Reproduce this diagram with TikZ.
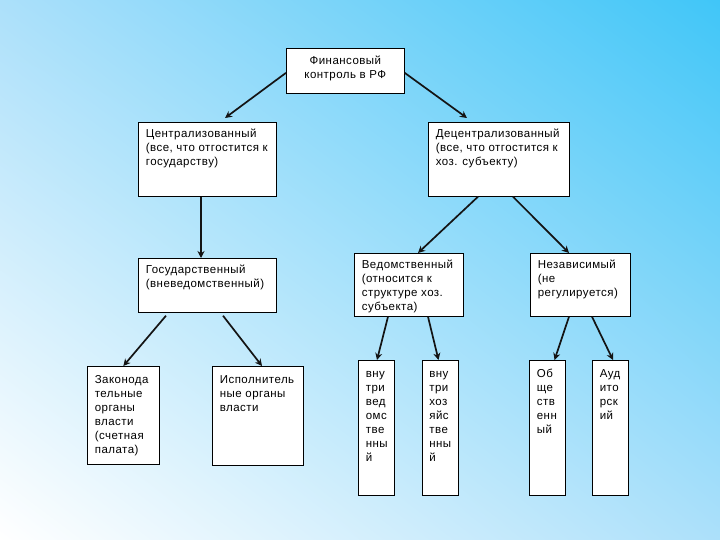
\documentclass[tikz,border=0pt]{standalone}
\usepackage{fontspec}
\setmainfont{Liberation Sans}
\usetikzlibrary{arrows.meta,shadings}
\definecolor{bgUR}{RGB}{64,198,248}
\definecolor{bgMid}{RGB}{172,224,250}
\definecolor{lineC}{RGB}{20,20,20}
\hfuzz=200pt \hbadness=10000
\newcommand\bt[5]{\parbox[t][#2][t]{#1}{\hyphenpenalty=10000 \fontsize{11.5}{14}\selectfont\addfontfeature{LetterSpace=4}#4\rule{0pt}{#3}#5}}
\newcommand\lft{\raggedright\leftskip=7.5pt }
\tikzset{
  boxst/.style={draw=black, line width=0.7pt, fill=white, inner sep=0pt, anchor=north west},
  arr/.style={draw=lineC, line width=1.7pt, -{Stealth[length=7pt,width=7pt]}}
}
\begin{document}
\begin{tikzpicture}[x=1pt,y=-1pt]
\useasboundingbox (0,0) rectangle (720,540);
\shade[upper left=bgMid, upper right=bgUR, lower left=white, lower right=bgMid] (0,0) rectangle (720,540);
% boxes
\node[boxst] (F) at (286,48) {\bt{118pt}{45pt}{16pt}{\centering}{Финансовый\\контроль в РФ}};
\node[boxst] (C) at (138,122) {\bt{138pt}{74pt}{15pt}{\lft}{Централизованный\\(все, что отгостится к\\государству)}};
\node[boxst] (D) at (428,122) {\bt{141pt}{74pt}{15pt}{\lft}{Децентрализованный\\(все, что отгостится к\\хоз. субъекту)}};
\node[boxst] (G) at (138,258) {\bt{138pt}{54pt}{15pt}{\lft}{Государственный\\(вневедомственный)}};
\node[boxst] (V) at (354,253) {\bt{109pt}{63pt}{15pt}{\lft}{Ведомственный\\(относится к\\структуре хоз.\\субъекта)}};
\node[boxst] (N) at (530,253) {\bt{100pt}{63pt}{15pt}{\lft}{Независимый\\(не\\регулируется)}};
\node[boxst] (Z) at (87,366) {\bt{72pt}{98pt}{17pt}{\lft}{Законода\\тельные\\органы\\власти\\(счетная\\палата)}};
\node[boxst] (I) at (212,366) {\bt{91pt}{99pt}{17pt}{\lft}{Исполнитель\\ные органы\\власти}};
\node[boxst] (B1) at (358,360) {\bt{36pt}{135pt}{17pt}{\lft}{вну\\три\\вед\\омс\\тве\\нны\\й}};
\node[boxst] (B2) at (421.5,360) {\bt{36pt}{135pt}{17pt}{\lft}{вну\\три\\хоз\\яйс\\тве\\нны\\й}};
\node[boxst] (B3) at (529,360) {\bt{36pt}{135pt}{17pt}{\lft}{Об\\ще\\ств\\енн\\ый}};
\node[boxst] (B4) at (592,360) {\bt{36pt}{135pt}{17pt}{\lft}{Ауд\\ито\\рск\\ий}};
% connectors
\draw[arr] ([shift={(0,2)}]F.west) -- ([shift={(87,-4)}]C.north west);
\draw[arr] ([shift={(0,2)}]F.east) -- ([shift={(39,-4)}]D.north west);
\draw[arr] ([shift={(63,0)}]C.south west) -- ([shift={(63,0)}]G.north west);
\draw[arr] ([shift={(28,3)}]G.south west) -- (Z.north);
\draw[arr] ([shift={(85,3)}]G.south west) -- ([shift={(50,0)}]I.north west);
\draw[arr] ([shift={(50,0)}]D.south west) -- ([shift={(64,0)}]V.north west);
\draw[arr] ([shift={(85,0)}]D.south west) -- ([shift={(39,0)}]N.north west);
\draw[arr] ([shift={(34,0)}]V.south west) -- ([shift={(19,0)}]B1.north west);
\draw[arr] ([shift={(74,0)}]V.south west) -- ([shift={(17,0)}]B2.north west);
\draw[arr] ([shift={(39,0)}]N.south west) -- ([shift={(25.5,0)}]B3.north west);
\draw[arr] ([shift={(62,0)}]N.south west) -- ([shift={(21,0)}]B4.north west);
\end{tikzpicture}
\end{document}
